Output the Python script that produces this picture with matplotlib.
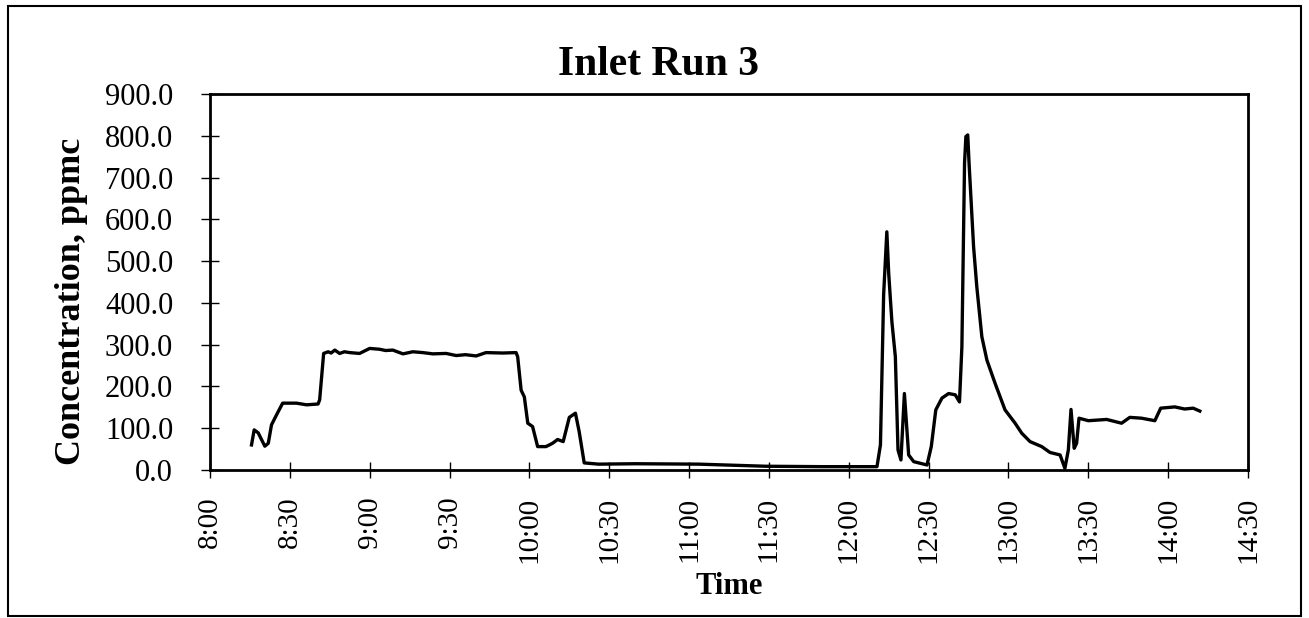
import matplotlib
matplotlib.use("Agg")
import matplotlib.pyplot as plt
from matplotlib.patches import Rectangle
import matplotlib.ticker as ticker

# minutes after 8:00 and concentration (ppmc)
minutes = [15.6, 16.6, 18.1, 20.6, 21.9, 23.1, 25.0, 27.3, 32.5, 36.3, 40.6, 41.2,
           42.7, 44.4, 45.5, 46.9, 48.7, 50.5, 52.5, 56.2, 60.0, 63.7, 66.0, 68.7,
           72.5, 76.2, 80.0, 83.7, 88.7, 92.5, 96.0, 100.0, 103.7, 110.0, 115.0,
           115.6, 116.9, 118.1, 119.4, 121.2, 123.1, 126.2, 127.5, 128.7, 130.6,
           132.7, 135.0, 137.3, 138.7, 140.6, 146.0, 160.0, 183.7, 208.7, 230.0,
           250.6, 251.9, 253.1, 254.3, 255.0, 256.2, 257.5, 258.5, 259.6, 260.9,
           262.5, 264.4, 269.4, 271.0, 272.7, 275.0, 277.5, 280.0, 281.6, 282.5,
           283.5, 284.0, 284.7, 285.2, 286.9, 288.1, 290.0, 291.9, 295.0, 298.7,
           302.5, 305.0, 308.1, 312.5, 315.6, 319.4, 321.2, 322.5, 323.5, 324.7,
           325.6, 326.5, 330.0, 336.9, 342.5, 345.6, 350.0, 355.0, 357.2, 362.5,
           366.2, 369.4, 371.9]
conc = [60, 96, 89, 57, 64, 108, 132, 160, 160, 156, 158, 168,
        279, 283, 280, 287, 279, 283, 281, 279, 291, 289, 286, 287,
        278, 283, 281, 278, 279, 274, 276, 273, 281, 280, 281,
        271, 191, 175, 112, 104, 56, 56, 60, 64, 73,
        68, 126, 136, 92, 17, 14, 15, 14, 9, 8,
        8, 60, 420, 570, 471, 355, 271, 48, 24, 183,
        36, 20, 12, 56, 144, 172, 183, 180, 163, 295,
        734, 798, 802, 734, 534, 439, 319, 263, 207, 144,
        112, 88, 68, 56, 42, 36, 4, 48, 145, 52,
        64, 124, 118, 121, 112, 126, 124, 118, 148, 151,
        146, 148, 141]

tick_minutes = list(range(0, 391, 30))
tick_labels = ["8:00", "8:30", "9:00", "9:30", "10:00", "10:30", "11:00",
               "11:30", "12:00", "12:30", "13:00", "13:30", "14:00", "14:30"]

plt.rcParams['font.family'] = ['Liberation Serif', 'DejaVu Serif']

fig = plt.figure(figsize=(13.09, 6.18), dpi=100)
ax = fig.add_axes([210 / 1309, 1 - 470 / 618, 1038 / 1309, 376 / 618])

ax.plot(minutes, conc, color='black', linewidth=2.4)

ax.set_xlim(0, 390)
ax.set_ylim(0, 900)
ax.set_xticks(tick_minutes)
ax.set_xticklabels(tick_labels, rotation=90)
ax.set_yticks(range(0, 901, 100))
ax.yaxis.set_major_formatter(ticker.FormatStrFormatter('%.1f'))

ax.tick_params(axis='y', direction='inout', length=13, width=1, labelsize=22, pad=20)
ax.tick_params(axis='x', direction='inout', length=12, width=1, labelsize=21, pad=13)
for s in ax.spines.values():
    s.set_linewidth(2)

ax.set_ylabel("Concentration, ppmc", fontsize=26, fontweight='bold')
ax.yaxis.set_label_coords(-0.133, 0.449)
ax.yaxis.label.set_va('center')
ax.set_xlabel("Time", fontsize=22, fontweight='bold')
ax.xaxis.set_label_coords(0.5, -0.31)
ax.xaxis.label.set_va('center')

fig.text(658 / 1309, 1 - 65 / 618, "Inlet Run 3", fontsize=30, fontweight='bold',
         ha='center', va='center')

fig.patches.append(Rectangle((8 / 1309, 2 / 618), 1293 / 1309, 610 / 618,
                             transform=fig.transFigure, fill=False,
                             edgecolor='black', linewidth=1.5))

fig.savefig("out.png", dpi=100)
